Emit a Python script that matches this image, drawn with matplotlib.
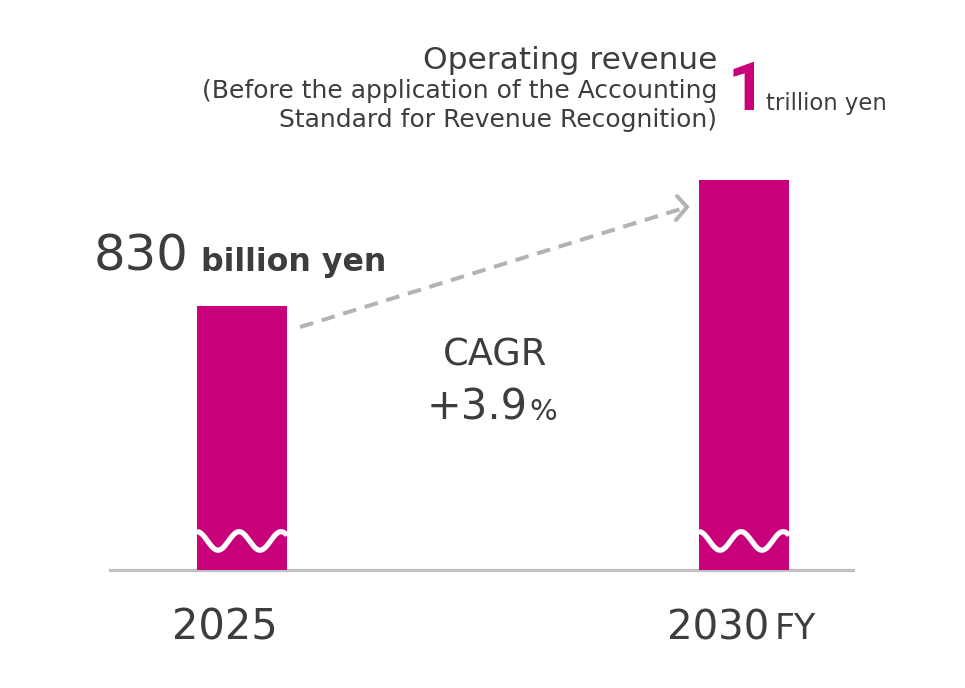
import matplotlib
matplotlib.use("Agg")
import matplotlib.pyplot as plt
import numpy as np

# data (billion yen)
years = ["2025", "2030"]
revenue = [830, 1000]

magenta = "#c8007a"
txt = "#3d3d3d"
grey = "#b3b3b3"

plt.rcParams["font.family"] = ["DejaVu Sans"]

fig = plt.figure(figsize=(9.65, 6.88), dpi=100)
ax = fig.add_axes([110 / 965, 118 / 688, 743 / 965, 570 / 688])

x = np.arange(len(years))
bar_w = 90 / 502
ax.bar(x, revenue, width=bar_w, color=magenta, zorder=3)

# broken axis: the scale does not start at zero
ax.set_xlim(-0.263, 1.217)
ax.set_ylim(473.8, 1242.8)
for s in ["top", "right", "left"]:
    ax.spines[s].set_visible(False)
ax.spines["bottom"].set_color("#c0c0c0")
ax.spines["bottom"].set_linewidth(2.3)
ax.set_xticks([])
ax.set_yticks([])

# wavy break marks on each bar
for xc in x:
    xs = np.linspace(xc - bar_w / 2, xc + bar_w / 2, 200)
    ys = 513 + 12.5 * np.cos(2 * np.pi * (xs - xc + 0.006) / 0.0837)
    ax.plot(xs, ys, color="white", lw=3.8, zorder=4, solid_capstyle="butt")

# dashed growth arrow
x0, y0 = x[0] + bar_w / 2 + 0.026, 801.6
x1, y1 = x[1] - bar_w / 2 - 0.024, 963.5
ax.plot([x0, x1], [y0, y1], color=grey, lw=2.9, dashes=(3.4, 2.2), zorder=2)
# chevron head, built in pixel space then mapped back to data
to_px = ax.transData
tip = to_px.transform((x1, y1))
inv = to_px.inverted()
arm1 = inv.transform(tip + np.array([-10, 11]))
arm2 = inv.transform(tip + np.array([-11, -13]))
ax.plot([arm1[0], x1, arm2[0]], [arm1[1], y1, arm2[1]], color=grey, lw=2.9,
        solid_joinstyle="miter", solid_capstyle="round", zorder=2)


def px(xp, yp):
    return xp / 965, 1 - yp / 688


# top-right title block
fig.text(*px(717, 69), "Operating revenue", ha="right", va="baseline",
         fontsize=22.5, color=txt)
fig.text(*px(717, 98), "(Before the application of the Accounting", ha="right",
         va="baseline", fontsize=18, color=txt)
fig.text(*px(717, 127), "Standard for Revenue Recognition)", ha="right",
         va="baseline", fontsize=18, color=txt)
fig.text(*px(728, 110), "1", ha="left", va="baseline", fontsize=48,
         color=magenta, family="Roboto", fontweight="bold")
fig.text(*px(766, 110), "trillion yen", ha="left", va="baseline",
         fontsize=16.4, color=txt)

# 2025 value label
fig.text(*px(94, 271), "830", ha="left", va="baseline", fontsize=35.8,
         color=txt)
fig.text(*px(201, 271), "billion yen", ha="left", va="baseline",
         fontsize=22.8, color=txt, fontweight="bold")

# CAGR
fig.text(*px(495, 365), "CAGR", ha="center", va="baseline", fontsize=26.5,
         color=txt)
fig.text(*px(427, 420), "+3.9", ha="left", va="baseline", fontsize=30,
         color=txt)
fig.text(*px(529, 420), "%", ha="left", va="baseline", fontsize=21,
         color=txt)

# x labels
fig.text(*px(225, 639), years[0], ha="center", va="baseline", fontsize=30,
         color=txt)
fig.text(*px(667, 639), years[1], ha="left", va="baseline", fontsize=29,
         color=txt)
fig.text(*px(775, 639), "FY", ha="left", va="baseline", fontsize=25,
         color=txt)

fig.savefig("out.png", dpi=100)
